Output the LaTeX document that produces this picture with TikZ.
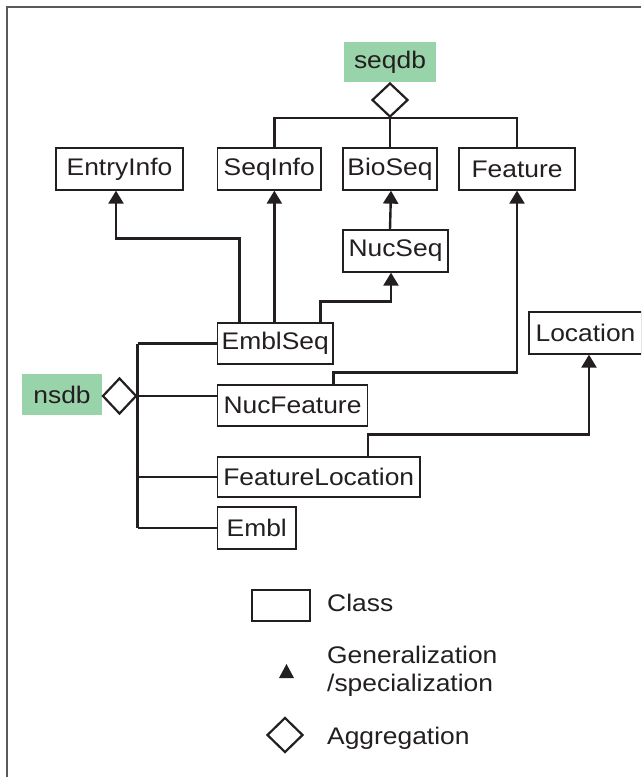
\documentclass[tikz,border=0pt]{standalone}
\usepackage{fontspec}
\setmainfont[FakeStretch=1.1]{Liberation Sans}
\usetikzlibrary{shapes.geometric,arrows.meta,calc}
\definecolor{ink}{RGB}{35,31,32}
\definecolor{pkg}{RGB}{153,211,170}
\definecolor{frame}{RGB}{90,90,90}
\begin{document}
\begin{tikzpicture}[x=1pt,y=-1pt,
  every node/.style={font=\fontsize{24}{28}\selectfont, text=ink},
  cls/.style={draw=ink, line width=1.3pt, rectangle, inner sep=0pt, minimum height=42pt},
  pkgbox/.style={fill=pkg, rectangle, inner sep=0pt, minimum height=40pt},
  agg/.style={draw=ink, line width=2.2pt, diamond, inner sep=0pt, fill=white},
  conn/.style={draw=ink, line width=2.4pt},
  gen/.style={conn, -{Triangle[width=15pt,length=13pt]}},
  lbl/.style={anchor=west, align=left, inner sep=0pt}]
\useasboundingbox (0,0) rectangle (641,777);
\clip (0,0) rectangle (641,777);
\fill[white] (0,0) rectangle (641,777);
% frame (top and left edges visible)
\draw[frame, line width=1.5pt] (641,7) -- (7,7) -- (7,777);

% package labels
\node[pkgbox, minimum width=92pt] (seqdb) at (390,62) {seqdb};
\node[pkgbox, minimum width=80pt, minimum height=41pt] (nsdb) at (62,394.5) {nsdb};
\node[agg, minimum width=36pt, minimum height=34pt] (seqdbdia) at (390,100) {};
\node[agg, minimum width=34pt, minimum height=36pt] (nsdbdia) at (119.5,396) {};

% classes
\node[cls, minimum width=127pt] (entryinfo) at (119.5,169) {EntryInfo};
\node[cls, minimum width=103.5pt] (seqinfo) at (269.25,169) {SeqInfo};
\node[cls, minimum width=94pt] (bioseq) at (390,169) {BioSeq};
\node[cls, minimum width=116pt] (feature) at (517,169) {Feature};
\node[cls, minimum width=105pt] (nucseq) at (395.5,251) {NucSeq};
\node[cls, minimum width=115.5pt, minimum height=41pt] (emblseq) at (275.25,343.5) {EmblSeq};
\node[cls, minimum width=113pt] (location) at (585.5,333) {Location};
\node[cls, minimum width=150pt, minimum height=41pt] (nucfeature) at (292.5,405.5) {NucFeature};
\node[cls, minimum width=202.5pt, minimum height=40pt] (featloc) at (318.75,477) {FeatureLocation};
\node[cls, minimum width=78.5pt] (embl) at (256.75,528) {Embl};

% seqdb aggregation
\draw[conn] ([xshift=57.5pt]emblseq.north west |- seqinfo.north) |- (seqdbdia.south) -| (feature.north);
\draw[conn] (seqdbdia.south) -- (bioseq.north);

% generalizations
\draw[gen] ([xshift=22.5pt]emblseq.north west) -- ++(0,-84) -| ([xshift=-3.5pt]entryinfo.south);
\draw[gen] ([xshift=57.5pt]emblseq.north west) coordinate (sa) -- (sa |- seqinfo.south);
\draw[gen] (nucseq.north -| bioseq.south) -- ([xshift=1pt]bioseq.south);
\draw[gen] ([xshift=-13pt]emblseq.north east) -- ++(0,-21) -| ([xshift=-4.5pt]nucseq.south);
\draw[gen] ([xshift=-34.5pt]nucfeature.north east) -- ++(0,-12) -| (feature.south);
\draw[gen] ([xshift=-52.5pt]featloc.north east) -- ++(0,-22) -| ([xshift=3.5pt]location.south);

% nsdb aggregation
\draw[conn] (emblseq.west -| nsdbdia.east) -- (embl.west -| nsdbdia.east);
\draw[conn] (emblseq.west -| nsdbdia.east) -- (emblseq.west);
\draw[conn] (nsdbdia.east) -- (nsdbdia.east -| nucfeature.west);
\draw[conn] (featloc.west -| nsdbdia.east) -- (featloc.west);
\draw[conn] (embl.west -| nsdbdia.east) -- (embl.west);

% legend
\node[cls, minimum width=58pt, minimum height=31pt] (legclass) at (281,605.5) {};
\node[lbl] (legclasst) at (327,603) {Class};
\fill[ink] (279,678) -- (294,678) -- (286.5,664) -- cycle;
\node[lbl] (leggent) at (327,671.5) {Generalization\\/specialization};
\node[agg, minimum width=36pt, minimum height=35pt] (legagg) at (285,735) {};
\node[lbl] (legaggt) at (327,738) {Aggregation};
\end{tikzpicture}
\end{document}
